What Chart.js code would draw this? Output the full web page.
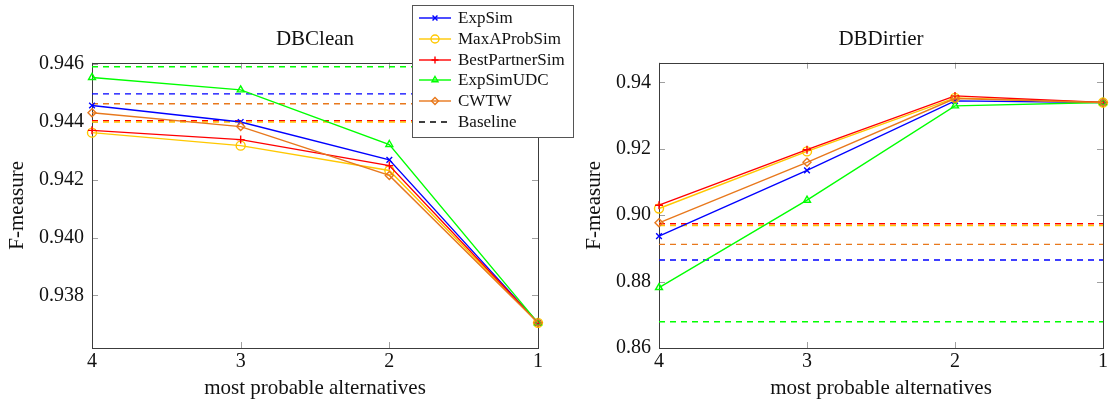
<!DOCTYPE html>
<html>
<head>
<meta charset="utf-8">
<script src="https://cdn.jsdelivr.net/npm/chart.js@4"></script>
<style>
  body { margin: 0; background: #fff; width: 1110px; height: 405px; overflow: hidden; position: relative; }
  #leftChart { position: absolute; left: 0; top: 0; }
  #rightChart { position: absolute; left: 577px; top: 0; }
  #legend {
    position: absolute; left: 412px; top: 5px; width: 160px; height: 129px;
    border: 1px solid #555; background: #fff; padding-top: 2px; box-sizing: content-box;
    font-family: "Liberation Serif", serif; font-size: 17px; color: #111;
  }
  .row { height: 20.7px; display: flex; align-items: center; }
  .row canvas { margin-left: 5px; margin-right: 6px; }
</style>
</head>
<body>
<canvas id="leftChart" width="560" height="405"></canvas>
<canvas id="rightChart" width="533" height="405"></canvas>
<div id="legend"></div>
<script>
const alternatives = ['4', '3', '2', '1'];
const seriesNames = ['ExpSim', 'MaxAProbSim', 'BestPartnerSim', 'ExpSimUDC', 'CWTW'];
const seriesColors = ['#0000ff', '#ffc800', '#ff0000', '#00ff00', '#e8781c'];
const seriesMarkers = ['crossRot', 'circle', 'cross', 'triangle', 'rectRot'];

// DBClean
const cleanExpSim = [0.94457, 0.94400, 0.94269, 0.93705];
const cleanMaxAProbSim = [0.94363, 0.94318, 0.94232, 0.93705];
const cleanBestPartnerSim = [0.94371, 0.94339, 0.94249, 0.93705];
const cleanExpSimUDC = [0.94554, 0.94511, 0.94322, 0.93705];
const cleanCWTW = [0.94432, 0.94384, 0.94215, 0.93705];
const cleanBaseline = [0.94497, 0.94400, 0.94404, 0.94591, 0.94463];
const cleanTicks = [0.938, 0.940, 0.942, 0.944, 0.946];

// DBDirtier
const dirtyExpSim = [0.8937, 0.9135, 0.9344, 0.9339];
const dirtyMaxAProbSim = [0.9020, 0.9192, 0.9353, 0.9339];
const dirtyBestPartnerSim = [0.9030, 0.9197, 0.9359, 0.9339];
const dirtyExpSimUDC = [0.8782, 0.9045, 0.9329, 0.9339];
const dirtyCWTW = [0.8977, 0.9159, 0.9351, 0.9339];
const dirtyBaseline = [0.8865, 0.8969, 0.8974, 0.8679, 0.8912];
const dirtyTicks = [0.86, 0.88, 0.90, 0.92, 0.94];

const serif = "'Liberation Serif', serif";

// box around the plot plus small inward tick marks
const framePlugin = {
  id: 'frame',
  beforeDatasetsDraw(chart) {
    const {ctx, chartArea: a, scales: {x, y}} = chart;
    ctx.save();
    ctx.lineWidth = 1;
    ctx.strokeStyle = '#a0a0a0';
    ctx.beginPath();
    y.ticks.forEach((t, i) => {
      const py = Math.round(y.getPixelForTick(i)) + 0.5;
      ctx.moveTo(a.left, py); ctx.lineTo(a.left + 6, py);
      ctx.moveTo(a.right - 6, py); ctx.lineTo(a.right, py);
    });
    x.ticks.forEach((t, i) => {
      const px = Math.round(x.getPixelForTick(i)) + 0.5;
      ctx.moveTo(px, a.top); ctx.lineTo(px, a.top + 6);
      ctx.moveTo(px, a.bottom - 6); ctx.lineTo(px, a.bottom);
    });
    ctx.stroke();
    ctx.strokeStyle = '#3c3c3c';
    ctx.strokeRect(Math.round(a.left) + 0.5, Math.round(a.top) + 0.5,
                   Math.round(a.width), Math.round(a.height));
    ctx.restore();
  }
};

const make_chart = (id, title, series, baseline, ticks, yMin, yMax, decimals, yWidth, padRight) => {
  const datasets = [];
  series.forEach((values, i) => {
    datasets.push({
      label: seriesNames[i],
      data: values,
      borderColor: seriesColors[i],
      backgroundColor: seriesColors[i],
      borderWidth: 1.4,
      pointStyle: seriesMarkers[i],
      pointRadius: seriesMarkers[i] === 'circle' ? 4.5 : 4,
      pointBorderColor: seriesColors[i],
      pointBackgroundColor: 'rgba(255,255,255,0)',
      pointBorderWidth: 1.4,
      tension: 0,
      clip: false,
      order: series.length - i
    });
  });
  baseline.forEach((b, i) => {
    datasets.push({
      label: 'Baseline ' + seriesNames[i],
      data: alternatives.map(() => b),
      borderColor: seriesColors[i],
      borderWidth: 1.4,
      borderDash: [6, 5],
      pointRadius: 0,
      clip: false,
      order: 20 + i
    });
  });

  new Chart(document.getElementById(id), {
    type: 'line',
    data: { labels: alternatives, datasets: datasets },
    plugins: [framePlugin],
    options: {
      responsive: false,
      animation: false,
      devicePixelRatio: 1,
      layout: { padding: { left: 0, right: padRight, top: 0, bottom: 0 } },
      plugins: {
        legend: { display: false },
        tooltip: { enabled: false },
        title: {
          display: true,
          text: title,
          fullSize: false,
          color: '#111',
          font: { family: serif, size: 21, weight: 'normal', lineHeight: 1.2 },
          padding: { top: 27, bottom: 10.5 }
        }
      },
      scales: {
        x: {
          type: 'category',
          offset: false,
          grid: { display: false, drawTicks: false },
          border: { display: false },
          ticks: { color: '#111', padding: 2, font: { family: serif, size: 20 } },
          title: {
            display: true,
            text: 'most probable alternatives',
            color: '#111',
            font: { family: serif, size: 21, lineHeight: 1.2 },
            padding: { top: 4, bottom: 4 }
          },
          afterFit: (s) => { s.height = 57; }
        },
        y: {
          min: yMin,
          max: yMax,
          grid: { display: false, drawTicks: false },
          border: { display: false },
          afterBuildTicks: (s) => { s.ticks = ticks.map(v => ({ value: v })); },
          ticks: {
            color: '#111',
            padding: 8,
            font: { family: serif, size: 20 },
            callback: (v) => Number(v).toFixed(decimals)
          },
          title: {
            display: true,
            text: 'F-measure',
            color: '#111',
            font: { family: serif, size: 21, lineHeight: 1.2 },
            padding: { top: 5, bottom: 5 }
          },
          afterFit: (s) => { s.width = yWidth; }
        }
      }
    }
  });
};

make_chart('leftChart', 'DBClean',
  [cleanExpSim, cleanMaxAProbSim, cleanBestPartnerSim, cleanExpSimUDC, cleanCWTW],
  cleanBaseline, cleanTicks, 0.93618, 0.94605, 3, 92, 22);

make_chart('rightChart', 'DBDirtier',
  [dirtyExpSim, dirtyMaxAProbSim, dirtyBestPartnerSim, dirtyExpSimUDC, dirtyCWTW],
  dirtyBaseline, dirtyTicks, 0.86, 0.9459, 2, 82, 6);

// html legend, markers drawn with chart.js helper
const legend = document.getElementById('legend');
const addRow = (name, color, marker, dashed) => {
  const row = document.createElement('div');
  row.className = 'row';
  const c = document.createElement('canvas');
  c.width = 34; c.height = 20;
  const ctx = c.getContext('2d');
  ctx.strokeStyle = color;
  ctx.lineWidth = 1.4;
  if (dashed) ctx.setLineDash([6, 5]);
  ctx.beginPath(); ctx.moveTo(1, 10); ctx.lineTo(33, 10); ctx.stroke();
  ctx.setLineDash([]);
  if (marker && Chart.helpers && Chart.helpers.drawPoint) {
    ctx.fillStyle = 'rgba(255,255,255,0)';
    Chart.helpers.drawPoint(ctx, {
      pointStyle: marker, radius: marker === 'circle' ? 4 : 3.5, rotation: 0, borderWidth: 1.4
    }, 17, 10);
  }
  const span = document.createElement('span');
  span.textContent = name;
  row.appendChild(c);
  row.appendChild(span);
  legend.appendChild(row);
};
seriesNames.forEach((n, i) => addRow(n, seriesColors[i], seriesMarkers[i], false));
addRow('Baseline', '#000', null, true);
</script>
</body>
</html>
